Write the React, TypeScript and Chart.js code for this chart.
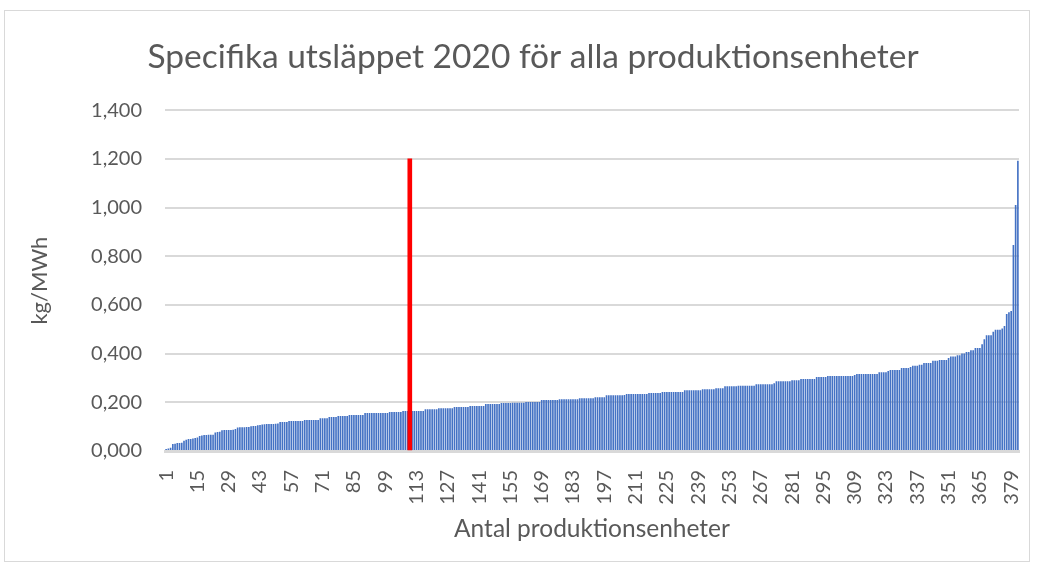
import React, { useEffect, useRef } from "react";
import { Chart, registerables } from "chart.js";

Chart.register(...registerables);

const TITLE = "Specifika utsläppet 2020 för alla produktionsenheter";
const X_TITLE = "Antal produktionsenheter";
const Y_TITLE = "kg/MWh";

// kg/MWh per production unit, sorted ascending (382 units)
const VALUES: number[] = [
  0.008, 0.010, 0.013, 0.029, 0.030, 0.033, 0.033, 0.034, 0.042, 0.046,
  0.049, 0.049, 0.051, 0.053, 0.055, 0.062, 0.064, 0.066, 0.066, 0.067,
  0.067, 0.067, 0.076, 0.078, 0.079, 0.085, 0.086, 0.086, 0.086, 0.086,
  0.087, 0.090, 0.097, 0.098, 0.098, 0.098, 0.099, 0.099, 0.102, 0.103,
  0.103, 0.106, 0.107, 0.109, 0.110, 0.111, 0.111, 0.111, 0.111, 0.112,
  0.113, 0.119, 0.119, 0.119, 0.119, 0.123, 0.123, 0.123, 0.123, 0.123,
  0.123, 0.123, 0.127, 0.127, 0.127, 0.127, 0.127, 0.127, 0.127, 0.135,
  0.135, 0.135, 0.135, 0.140, 0.140, 0.140, 0.140, 0.144, 0.144, 0.144,
  0.144, 0.144, 0.148, 0.148, 0.148, 0.148, 0.148, 0.148, 0.148, 0.156,
  0.156, 0.156, 0.156, 0.156, 0.156, 0.156, 0.156, 0.156, 0.156, 0.156,
  0.160, 0.160, 0.160, 0.160, 0.160, 0.160, 0.164, 0.164, 0.164, 0.164,
  0.164, 0.164, 0.164, 0.164, 0.164, 0.164, 0.172, 0.172, 0.172, 0.172,
  0.172, 0.172, 0.176, 0.176, 0.176, 0.176, 0.176, 0.176, 0.176, 0.181,
  0.181, 0.181, 0.181, 0.181, 0.181, 0.181, 0.185, 0.185, 0.185, 0.185,
  0.185, 0.185, 0.185, 0.193, 0.193, 0.193, 0.193, 0.193, 0.193, 0.193,
  0.197, 0.197, 0.197, 0.197, 0.197, 0.198, 0.198, 0.198, 0.198, 0.198,
  0.198, 0.201, 0.201, 0.201, 0.201, 0.201, 0.201, 0.201, 0.209, 0.209,
  0.209, 0.209, 0.209, 0.209, 0.209, 0.209, 0.213, 0.213, 0.213, 0.213,
  0.213, 0.213, 0.213, 0.213, 0.213, 0.217, 0.217, 0.217, 0.217, 0.217,
  0.217, 0.217, 0.221, 0.221, 0.221, 0.221, 0.221, 0.229, 0.229, 0.229,
  0.229, 0.229, 0.229, 0.229, 0.229, 0.230, 0.234, 0.234, 0.234, 0.234,
  0.234, 0.234, 0.234, 0.234, 0.234, 0.234, 0.238, 0.238, 0.238, 0.238,
  0.238, 0.238, 0.242, 0.242, 0.242, 0.242, 0.242, 0.242, 0.242, 0.242,
  0.242, 0.242, 0.250, 0.250, 0.250, 0.250, 0.250, 0.250, 0.250, 0.250,
  0.254, 0.254, 0.254, 0.254, 0.254, 0.254, 0.258, 0.258, 0.258, 0.258,
  0.266, 0.266, 0.266, 0.266, 0.266, 0.266, 0.268, 0.268, 0.268, 0.268,
  0.268, 0.268, 0.268, 0.268, 0.274, 0.274, 0.274, 0.274, 0.274, 0.274,
  0.274, 0.274, 0.278, 0.287, 0.287, 0.287, 0.287, 0.287, 0.287, 0.287,
  0.291, 0.291, 0.291, 0.291, 0.296, 0.296, 0.296, 0.296, 0.296, 0.296,
  0.296, 0.304, 0.304, 0.304, 0.304, 0.304, 0.308, 0.308, 0.308, 0.308,
  0.308, 0.308, 0.308, 0.308, 0.308, 0.308, 0.308, 0.308, 0.312, 0.316,
  0.316, 0.316, 0.316, 0.316, 0.316, 0.316, 0.316, 0.316, 0.316, 0.324,
  0.324, 0.324, 0.324, 0.329, 0.333, 0.333, 0.333, 0.333, 0.333, 0.341,
  0.341, 0.341, 0.341, 0.345, 0.350, 0.350, 0.350, 0.354, 0.354, 0.362,
  0.362, 0.362, 0.362, 0.371, 0.371, 0.371, 0.374, 0.374, 0.374, 0.374,
  0.382, 0.388, 0.388, 0.388, 0.393, 0.393, 0.401, 0.401, 0.407, 0.407,
  0.414, 0.414, 0.423, 0.423, 0.423, 0.439, 0.459, 0.476, 0.476, 0.476,
  0.490, 0.498, 0.498, 0.498, 0.503, 0.513, 0.563, 0.570, 0.575, 0.846,
  1.011, 1.192,
];

// category labels: unit number 1..N
const CATEGORIES: string[] = VALUES.map((_, i) => String(i + 1));

// red marker line
const MARKER_CATEGORY = "110";
const MARKER_VALUE = 1.2;
const MARKER_DATA: (number | null)[] = CATEGORIES.map((c) =>
  c === MARKER_CATEGORY ? MARKER_VALUE : null
);

const X_LABEL_EVERY = 14;
const Y_MIN = 0;
const Y_MAX = 1.4;
const Y_STEP = 0.2;

const TEXT = "#595959";
const GRID = "#D9D9D9";
const FONT = "Lato";

export default function App() {
  const ref = useRef<HTMLCanvasElement | null>(null);

  useEffect(() => {
    if (!ref.current) return;
    const chart = new Chart(ref.current, {
      type: "bar",
      data: {
        labels: CATEGORIES,
        datasets: [
          {
            label: "Markering",
            data: MARKER_DATA,
            backgroundColor: "#FF0000",
            barThickness: 4,
            grouped: false,
            order: 0,
          } as any,
          {
            label: "Specifika utsläpp",
            data: VALUES,
            backgroundColor: "#4472C4",
            categoryPercentage: 1,
            barPercentage: 0.74,
            grouped: false,
            order: 1,
          } as any,
        ],
      },
      options: {
        animation: false,
        responsive: false,
        maintainAspectRatio: false,
        layout: { padding: { left: 47, right: 18, top: 0, bottom: 20 } },
        plugins: {
          legend: { display: false },
          tooltip: { enabled: false },
          title: {
            display: true,
            text: TITLE,
            color: TEXT,
            font: { family: FONT, size: 33.5, weight: "normal" },
            padding: { top: 37, bottom: 33 },
          },
        },
        scales: {
          x: {
            type: "category",
            offset: true,
            z: 1,
            grid: { display: false, drawTicks: false },
            border: { display: true, color: GRID, width: 3 },
            ticks: {
              autoSkip: false,
              maxRotation: 90,
              minRotation: 90,
              padding: 19,
              color: TEXT,
              font: { family: FONT, size: 20 },
              callback: (_v: any, i: number) =>
                i % X_LABEL_EVERY === 0 ? CATEGORIES[i] : "",
            },
            title: {
              display: true,
              text: X_TITLE,
              color: TEXT,
              font: { family: FONT, size: 24.5 },
              padding: { top: 0, bottom: 5 },
            },
            afterFit: (s: any) => {
              s.height = 98;
              s.paddingLeft = 0;
              s.paddingRight = 0;
            },
          },
          y: {
            min: Y_MIN,
            max: Y_MAX,
            grid: { color: GRID, lineWidth: 2, drawTicks: false },
            border: { display: false },
            ticks: {
              stepSize: Y_STEP,
              padding: 23,
              color: TEXT,
              font: { family: FONT, size: 20 },
              callback: (v: any) => Number(v).toFixed(3).replace(".", ","),
            },
            title: {
              display: true,
              text: Y_TITLE,
              color: TEXT,
              font: { family: FONT, size: 22 },
              padding: { top: -20, bottom: 0 },
            },
            afterFit: (s: any) => {
              s.width = 118;
            },
          },
        },
      } as any,
    });
    return () => chart.destroy();
  }, []);

  return (
    <div
      style={{
        position: "fixed",
        left: 0,
        top: 0,
        width: 1037,
        height: 569,
        background: "#FFFFFF",
      }}
    >
      <div
        style={{
          position: "absolute",
          left: 4,
          top: 10,
          width: 1026,
          height: 552,
          border: "1px solid #D9D9D9",
          boxSizing: "border-box",
        }}
      />
      <canvas
        ref={ref}
        width={1037}
        height={569}
        style={{ position: "absolute", left: 0, top: 0, width: 1037, height: 569 }}
      />
    </div>
  );
}
